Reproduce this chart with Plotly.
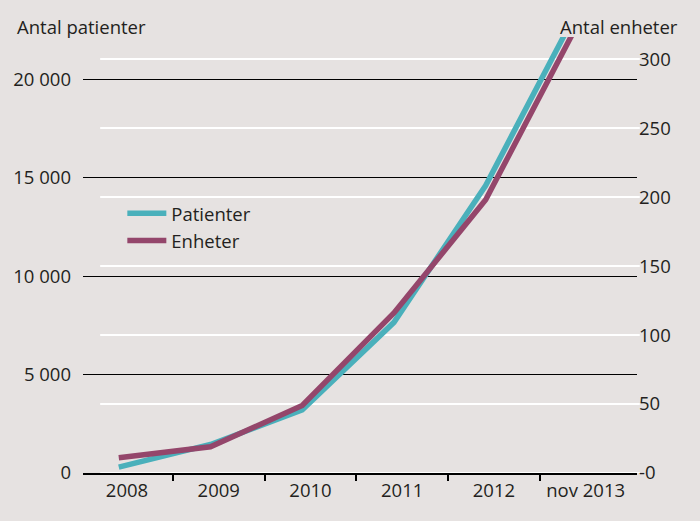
import plotly.graph_objects as go

# ---- data ----
categories = ["2008", "2009", "2010", "2011", "2012", "nov 2013"]
patienter = [300, 1450, 3200, 7650, 14600, 23500]
enheter = [11, 19, 49, 116, 198, 325]

left_ticks = [0, 5000, 10000, 15000, 20000]
left_ticktext = ["0", "5 000", "10 000", "15 000", "20 000"]
right_ticks = [0, 50, 100, 150, 200, 250, 300]
right_ticktext = ["-0", "50", "100", "150", "200", "250", "300"]

# ---- style ----
BG = "#e6e2e1"
TEAL = "#4ab0bb"
PURPLE = "#94466b"
TXT = "#231f20"
FONT = "Open Sans"
FS = 18.5
LABEL_SHIFT = 0.09

xs = list(range(len(categories)))

fig = go.Figure()
fig.add_trace(go.Scatter(x=xs, y=patienter, name="Patienter", mode="lines",
                         line=dict(color=TEAL, width=5.5), yaxis="y"))
fig.add_trace(go.Scatter(x=xs, y=enheter, name="Enheter", mode="lines",
                         line=dict(color=PURPLE, width=5.5), yaxis="y2"))

# white gridlines belonging to the right axis
for v in right_ticks:
    fig.add_shape(type="line", xref="paper", yref="y2", x0=0.031, x1=1.005,
                  y0=v, y1=v, line=dict(color="white", width=2), layer="below")

fig.update_layout(
    width=700, height=521,
    paper_bgcolor=BG, plot_bgcolor=BG,
    margin=dict(l=83, r=63, t=37, b=48),
    font=dict(family=FONT, size=FS, color=TXT),
    showlegend=True,
    legend=dict(x=0.071, y=0.638, xanchor="left", yanchor="top",
                bgcolor="rgba(0,0,0,0)", font=dict(size=FS, color=TXT),
                tracegroupgap=0, itemwidth=39),
    xaxis=dict(
        range=[-0.39, 5.65], showgrid=False, zeroline=False,
        tickmode="array", tickvals=[i + LABEL_SHIFT for i in xs], ticktext=categories,
        ticks="", showline=True, linecolor="black", linewidth=1.5,
        minor=dict(tickmode="array", tickvals=[i + LABEL_SHIFT + 0.5 for i in xs[:-1]],
                   ticks="outside", ticklen=6, tickcolor="black", tickwidth=1.5,
                   showgrid=False),
        fixedrange=True,
    ),
    yaxis=dict(
        range=[0, 22140], tickmode="array", tickvals=left_ticks, ticktext=left_ticktext,
        showgrid=True, gridcolor="black", gridwidth=1.2, zeroline=False,
        ticks="", ticklabelstandoff=11, showline=False,
    ),
    yaxis2=dict(
        range=[0, 316], overlaying="y", side="right",
        tickmode="array", tickvals=right_ticks, ticktext=right_ticktext,
        showgrid=False, zeroline=False, ticks="", ticklabelstandoff=1,
        showline=False,
    ),
    annotations=[
        dict(text="Antal patienter", xref="paper", yref="paper", x=-0.122, y=1.0,
             xanchor="left", yanchor="bottom", yshift=-4, showarrow=False,
             font=dict(size=FS, color=TXT)),
        dict(text="Antal enheter", xref="paper", yref="paper", x=1.078, y=1.0,
             xanchor="right", yanchor="bottom", yshift=-4, showarrow=False,
             font=dict(size=FS, color=TXT)),
    ],
)

fig.write_html(
    "out.html",
    config={"displayModeBar": False},
    post_script="document.body.style.margin='0';document.body.style.background='%s';" % BG,
)
